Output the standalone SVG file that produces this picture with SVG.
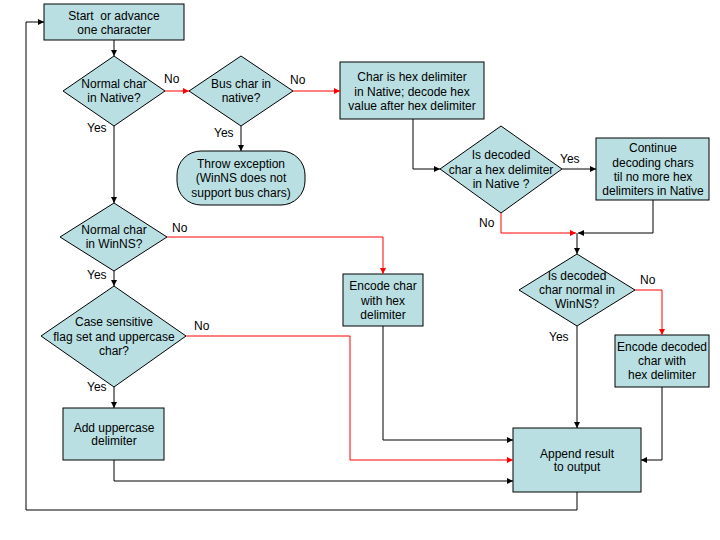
<svg xmlns="http://www.w3.org/2000/svg" width="720" height="540" viewBox="0 0 720 540">
<defs>
<marker id="ab" markerWidth="7" markerHeight="7" refX="6" refY="3.5" orient="auto" markerUnits="userSpaceOnUse"><path d="M0,0.5 L6,3.5 L0,6.5 z" fill="#000"/></marker>
<marker id="ar" markerWidth="7" markerHeight="7" refX="6" refY="3.5" orient="auto" markerUnits="userSpaceOnUse"><path d="M0,0.5 L6,3.5 L0,6.5 z" fill="#f00"/></marker>
</defs>
<style>
.n{fill:#B9DFE2;stroke:#000;stroke-width:1}
text{font-family:"Liberation Sans",Arial,sans-serif;font-size:12px;fill:#000}
.c{text-anchor:middle}
.k{fill:none;stroke:#000;stroke-width:1}
.r{fill:none;stroke:#f00;stroke-width:1}
</style>
<rect width="720" height="540" fill="#fff"/>
<g id="start"><rect class="n" x="44" y="4" width="140" height="36"/><text class="c" x="114" y="20" style="white-space:pre">Start  or advance</text><text class="c" x="114" y="34">one character</text></g>
<g id="d1"><polygon class="n" points="114,56 165,91 114,126 63,91"/><text class="c" x="114" y="88">Normal char</text><text class="c" x="114" y="102">in Native?</text></g>
<g id="d2"><polygon class="n" points="241,56 293,91 241,126 189,91"/><text class="c" x="241" y="88">Bus char in</text><text class="c" x="241" y="102">native?</text></g>
<g id="throw"><rect class="n" x="177" y="151" width="128" height="54" rx="24" ry="24"/><text class="c" x="241" y="168">Throw exception</text><text class="c" x="241" y="182">(WinNS does not</text><text class="c" x="241" y="197">support bus chars)</text></g>
<g id="hex"><rect class="n" x="340" y="62" width="144" height="57"/><text class="c" x="412" y="81">Char is hex delimiter</text><text class="c" x="412" y="96">in Native; decode hex</text><text class="c" x="412" y="110">value after hex delimiter</text></g>
<g id="d3"><polygon class="n" points="501,126 562,169 501,213 440,169"/><text class="c" x="501" y="159">Is decoded</text><text class="c" x="501" y="174">char a hex delimiter</text><text class="c" x="501" y="188">in Native ?</text></g>
<g id="cont"><rect class="n" x="596" y="138" width="113" height="62"/><text class="c" x="653" y="152">Continue</text><text class="c" x="653" y="167">decoding chars</text><text class="c" x="653" y="181">til no more hex</text><text class="c" x="653" y="195">delimiters in Native</text></g>
<g id="d4"><polygon class="n" points="114,203 167,237 114,271 60,237"/><text class="c" x="114" y="234">Normal char</text><text class="c" x="114" y="248">in WinNS?</text></g>
<g id="encchar"><rect class="n" x="343" y="274" width="80" height="52"/><text class="c" x="383" y="290">Encode char</text><text class="c" x="383" y="305">with hex</text><text class="c" x="383" y="319">delimiter</text></g>
<g id="d5"><polygon class="n" points="577,254 635,290 577,326 519,290"/><text class="c" x="577" y="280">Is decoded</text><text class="c" x="577" y="294">char normal in</text><text class="c" x="577" y="308">WinNS?</text></g>
<g id="encdec"><rect class="n" x="615" y="335" width="94" height="52"/><text class="c" x="662" y="351">Encode decoded</text><text class="c" x="662" y="365">char with</text><text class="c" x="662" y="379">hex delimiter</text></g>
<g id="d6"><polygon class="n" points="114,286 186,336 114,387 41,336"/><text class="c" x="114" y="326">Case sensitive</text><text class="c" x="114" y="341">flag set and uppercase</text><text class="c" x="114" y="355">char?</text></g>
<g id="addup"><rect class="n" x="63" y="408" width="101" height="52"/><text class="c" x="114" y="432">Add uppercase</text><text class="c" x="114" y="445">delimiter</text></g>
<g id="append"><rect class="n" x="513" y="428" width="128" height="64"/><text class="c" x="577" y="458">Append result</text><text class="c" x="577" y="471">to output</text></g>
<g id="connectors">
<path class="k" d="M114,40 V56" marker-end="url(#ab)"/>
<path class="r" d="M165,91 H189" marker-end="url(#ar)"/>
<path class="r" d="M293,91 H340" marker-end="url(#ar)"/>
<path class="k" d="M241,126 V151" marker-end="url(#ab)"/>
<path class="k" d="M413,119 V169 H440" marker-end="url(#ab)"/>
<path class="k" d="M562,169 H596" marker-end="url(#ab)"/>
<path class="r" d="M501,213 V233 H576" marker-end="url(#ar)"/>
<path class="k" d="M653,200 V233 H578" marker-end="url(#ab)"/>
<path class="k" d="M577,233 V254" marker-end="url(#ab)"/>
<path class="k" d="M114,126 V203" marker-end="url(#ab)"/>
<path class="r" d="M167,237 H383 V274" marker-end="url(#ar)"/>
<path class="k" d="M114,271 V286" marker-end="url(#ab)"/>
<path class="k" d="M114,387 V408" marker-end="url(#ab)"/>
<path class="r" d="M186,336 H350 V460 H513" marker-end="url(#ar)"/>
<path class="k" d="M383,326 V440 H513" marker-end="url(#ab)"/>
<path class="k" d="M114,460 V481 H513" marker-end="url(#ab)"/>
<path class="r" d="M635,290 H662 V335" marker-end="url(#ar)"/>
<path class="k" d="M577,326 V428" marker-end="url(#ab)"/>
<path class="k" d="M662,387 V460 H641" marker-end="url(#ab)"/>
<path class="k" d="M577,492 V510 H26 V22 H44" marker-end="url(#ab)"/>
<text x="164" y="83">No</text>
<text x="290" y="84">No</text>
<text x="87" y="132">Yes</text>
<text x="214" y="137">Yes</text>
<text x="560" y="163">Yes</text>
<text x="479" y="227">No</text>
<text x="172" y="232">No</text>
<text x="87" y="279">Yes</text>
<text x="194" y="330">No</text>
<text x="87" y="391">Yes</text>
<text x="640" y="284">No</text>
<text x="549" y="341">Yes</text>
</g>
</svg>
